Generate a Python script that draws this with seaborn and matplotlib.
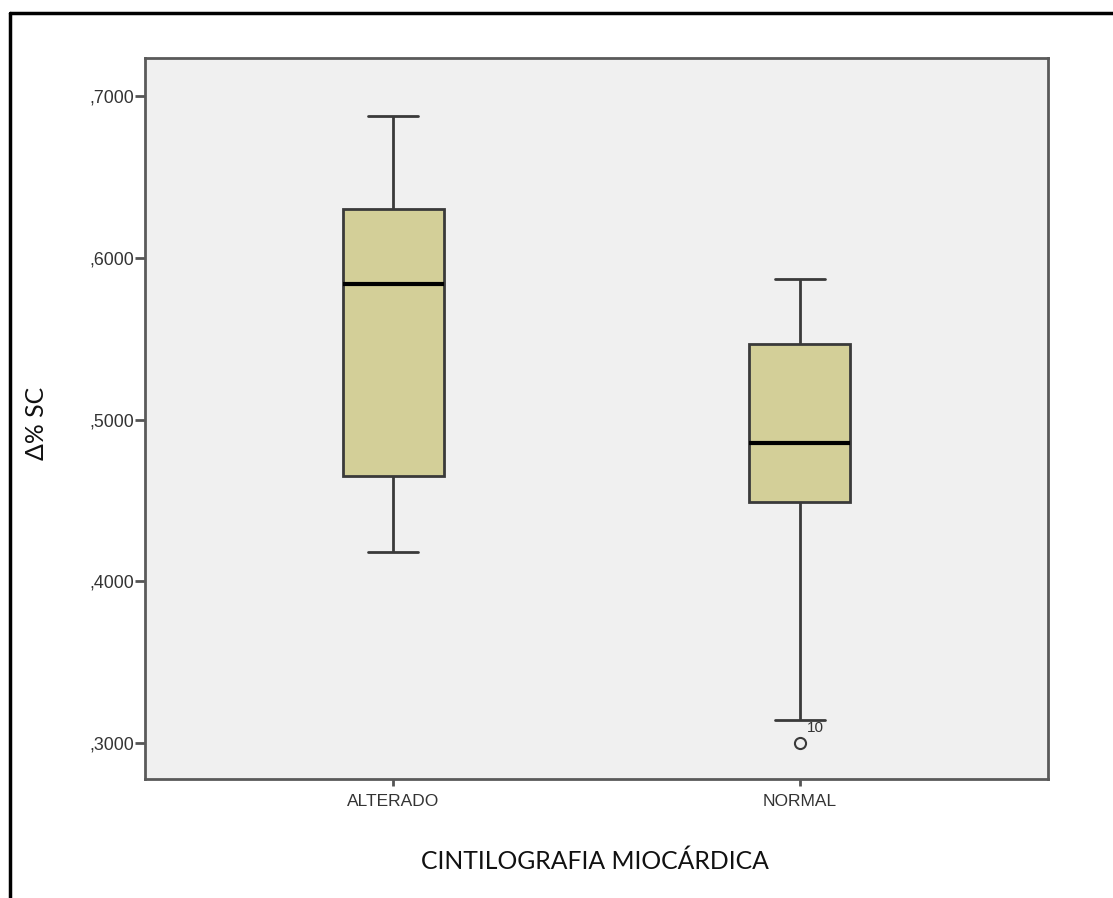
import numpy as np
import pandas as pd
import seaborn as sns
import matplotlib
matplotlib.use("Agg")
import matplotlib.pyplot as plt
from matplotlib.lines import Line2D

# ---- data ----
categories = ["ALTERADO", "NORMAL"]
alterado_vals = [0.4179, 0.4648, 0.5840, 0.6302, 0.6877]
normal_vals = [0.3000, 0.3142, 0.4488, 0.4700, 0.4852, 0.5150, 0.5469, 0.5700, 0.5870]
outlier_label = "10"
yticks = [0.3, 0.4, 0.5, 0.6, 0.7]
ytick_labels = [",3000", ",4000", ",5000", ",6000", ",7000"]
ylabel = "Δ% SC"
xlabel = "CINTILOGRAFIA MIOCÁRDICA"

df = pd.DataFrame({
    "grupo": [categories[0]] * len(alterado_vals) + [categories[1]] * len(normal_vals),
    "valor": alterado_vals + normal_vals,
})

sns.set_style("white")
plt.rcParams["font.family"] = ["Liberation Sans", "DejaVu Sans"]

fig = plt.figure(figsize=(11.13, 8.98), dpi=100)
ax = fig.add_axes([145 / 1113, 1 - 779 / 898, (1048 - 145) / 1113, (779 - 58) / 898])
ax.set_facecolor("#F0F0F0")

sns.boxplot(
    data=df, x="grupo", y="valor", order=categories, ax=ax,
    color="#D3CF98", saturation=1, width=0.248, linecolor="#3a3a3a", linewidth=2,
    medianprops={"color": "black", "linewidth": 3},
    flierprops={"marker": "o", "markersize": 8, "markerfacecolor": "none",
                "markeredgecolor": "#3a3a3a", "markeredgewidth": 1.5},
)

ax.set_xlim(-0.61, 1.61)
ax.set_ylim(0.2778, 0.7235)
ax.set_yticks(yticks)
ax.set_yticklabels(ytick_labels, fontsize=12.8, color="#333333")
ax.tick_params(axis="x", labelsize=12.5, labelcolor="#333333", length=5, pad=6)
ax.tick_params(axis="y", length=7, pad=1)
ax.tick_params(axis="both", direction="out", width=2, color="#555555",
               left=True, bottom=True)
for s in ax.spines.values():
    s.set_visible(True)
    s.set_color("#5a5a5a")
    s.set_linewidth(2)

ax.set_xlabel("")
ax.set_ylabel("")
fig.text(595 / 1113, 1 - 861 / 898, xlabel, fontsize=17.8, family=["Lato", "DejaVu Sans"],
         color="#111111", va="center", ha="center")
fig.text(37 / 1113, 1 - 423 / 898, ylabel, fontsize=17.8, family=["Lato", "DejaVu Sans"],
         color="#111111", rotation=90, va="center", ha="center")

# outlier case label
ax.annotate(outlier_label, xy=(1, normal_vals[0]), xytext=(5, 11), textcoords="offset points",
            fontsize=11, color="#333333", ha="left", va="center")

# outer frame (left and top edges visible)
fig.add_artist(Line2D([10 / 1113, 10 / 1113], [0, 1 - 13 / 898], transform=fig.transFigure,
                      color="black", linewidth=2.5))
fig.add_artist(Line2D([10 / 1113, 1], [1 - 13 / 898, 1 - 13 / 898], transform=fig.transFigure,
                      color="black", linewidth=2.5))

fig.savefig("out.png", dpi=100, facecolor="white")
